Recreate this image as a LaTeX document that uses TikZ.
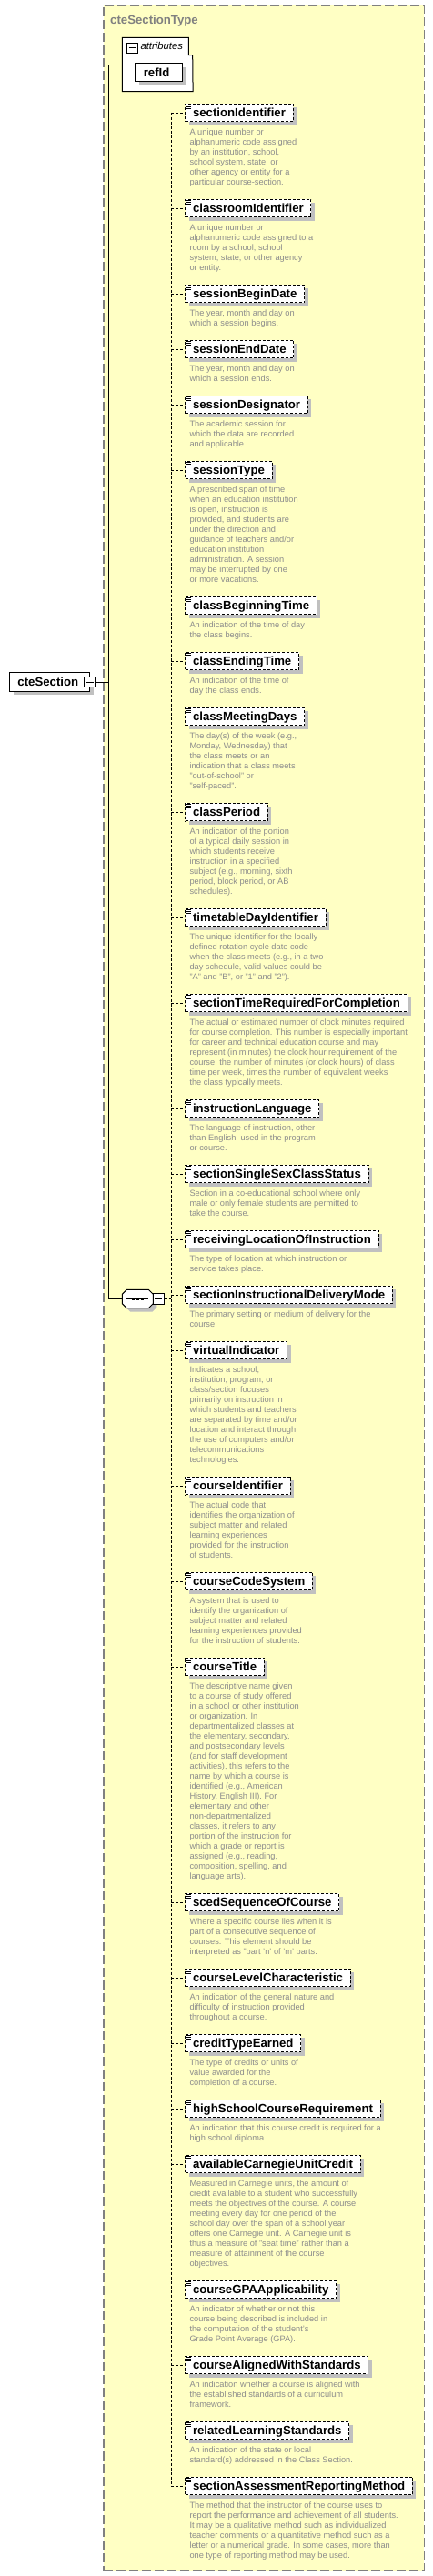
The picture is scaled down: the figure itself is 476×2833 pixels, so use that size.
\documentclass[tikz,border=0pt]{standalone}
\usepackage{fontspec}
\setmainfont{Liberation Sans}
\definecolor{bgyellow}{RGB}{255,255,196}
\definecolor{framegray}{RGB}{128,128,128}
\definecolor{descgray}{RGB}{140,140,140}
\definecolor{shadowgray}{RGB}{192,192,192}
\tikzset{
  namefont/.style={font=\fontsize{13.2}{15}\selectfont\bfseries},
  myshadow/.style={preaction={fill=shadowgray,draw=none,solid,transform canvas={shift={(4pt,-4pt)}}}},
  elbox/.style={namefont,draw=black,line width=1pt,dash pattern=on 3pt off 2pt,fill=white,
    inner xsep=8.2pt,inner ysep=0pt,minimum height=19.6pt,text height=9.5pt,text depth=0pt,
    anchor=north west,myshadow},
  solidbox/.style={namefont,draw=black,line width=1pt,fill=white,inner ysep=0pt,
    text height=9.5pt,text depth=0pt,align=left,anchor=north west,myshadow},
  desc/.style={font=\fontsize{9.25}{11}\selectfont,text=descgray,align=left,inner sep=0pt,anchor=north west},
  wire/.style={draw=black,line width=1pt},
  dwire/.style={draw=black,line width=1pt,dash pattern=on 3pt off 2pt},
  iconline/.style={draw=black,line width=0.8pt},
  minusbox/.style={draw=black,line width=1pt,fill=white,minimum width=11.4pt,minimum height=11pt,inner sep=0pt},
}
\newcommand\elem[3]{%
  \node[elbox] (#1) at (203.3,#2) {#1};
  \draw[iconline] ([xshift=1.4pt,yshift=-1.7pt]#1.north west) -- +(5.3pt,0pt);
  \draw[iconline] ([xshift=1.4pt,yshift=-3.7pt]#1.north west) -- +(5.3pt,0pt);
  \draw[iconline] ([xshift=1.4pt,yshift=-5.7pt]#1.north west) -- +(5.3pt,0pt);
  \draw[dwire] (#1.west -| spineTop) -- (#1.west);
  \node[desc] (#1-desc) at (208.3,#2+26.6) {\strut #3};
}
\newcommand\minusline[1]{\draw[line width=1pt] ([xshift=2.2pt]#1.west) -- ([xshift=-2.2pt]#1.east);}
\begin{document}
\begin{tikzpicture}[x=1pt,y=-1pt]
\useasboundingbox (0,0) rectangle (476,2833);
% type container
\node[draw=framegray,line width=1.2pt,dash pattern=on 10pt off 4pt,fill=bgyellow,
  anchor=north west,minimum width=352.4pt,minimum height=2820.7pt,inner sep=0pt] (typebox) at (113.3,5.3) {};
\node[anchor=base west,inner sep=0pt,font=\fontsize{13.2}{15}\selectfont\bfseries,text=framegray] (title) at (121,26) {cteSectionType};
% attributes
\node[anchor=north west,minimum width=77.4pt,minimum height=59pt,inner sep=0pt] (attrs) at (134.3,41.3) {};
\draw[line width=1pt,fill=white] (attrs.north west) -- (207.3,41.3) -- (207.3,60.7) -- (211.7,60.7) -- (attrs.south east) -- (attrs.south west) -- cycle;
\node[minusbox,anchor=north west] (attrMinus) at (139.3,46.7) {};
\minusline{attrMinus}
\node[anchor=base west,inner sep=0pt,font=\fontsize{11.3}{13}\selectfont\itshape] (attrLabel) at (154.3,54.7) {attributes};
\node[solidbox,inner xsep=9pt,text width=33.4pt,minimum height=20pt] (refId) at (148.3,69.3) {refId};
% root element
\node[solidbox,inner xsep=8.7pt,text width=70.3pt,minimum height=20.4pt] (cteSection) at (10.3,739.3) {cteSection};
\node[minusbox,anchor=north west] (cteMinus) at (92.3,744.3) {};
\minusline{cteMinus}
% trunk
\coordinate (trunkTop) at (119.3,71.3);
\coordinate (trunkBot) at (119.3,1428.5);
\draw[wire] (cteMinus.east) -- (cteMinus.east -| trunkTop);
\draw[wire] (trunkTop) -- (trunkBot);
\draw[wire] (trunkTop) -- (attrs.west |- trunkTop);
% sequence compositor
\node[minimum width=34pt,minimum height=20.4pt,inner sep=0pt] (seq) at (151.3,1428.5) {};
\fill[shadowgray,shift={(4,4)}] (139.3,1418.3) -- (163.3,1418.3) -- (168.3,1423.3) -- (168.3,1433.7) -- (163.3,1438.7) -- (139.3,1438.7) -- (134.3,1433.7) -- (134.3,1423.3) -- cycle;
\draw[line width=1pt,fill=white] (139.3,1418.3) -- (163.3,1418.3) -- (168.3,1423.3) -- (168.3,1433.7) -- (163.3,1438.7) -- (139.3,1438.7) -- (134.3,1433.7) -- (134.3,1423.3) -- cycle;
\draw[line width=1pt] (139.3,1428.5) -- (163.3,1428.5);
\foreach \dx in {146.7,151.7,156.7} {\fill (\dx-1.5,1427) rectangle (\dx+1.5,1430);}
\node[minusbox,minimum width=11.7pt,minimum height=11.6pt] (seqMinus) at (174.15,1428.5) {};
\minusline{seqMinus}
\draw[wire] (trunkBot) -- (seq.west);
% spine
\coordinate (spineTop) at (188.3,123.5);
\coordinate (spineBot) at (188.3,2733.5);
\draw[dwire] (spineTop) -- (spineBot);
\draw[dwire] (seqMinus.east) -- (seqMinus.east -| spineTop);
% elements
\elem{sectionIdentifier}{113.7}{A unique number or\\alphanumeric code assigned\\by an institution, school,\\school system, state, or\\other agency or entity for a\\particular course-section.}
\elem{classroomIdentifier}{218.7}{A unique number or\\alphanumeric code assigned to a\\room by a school, school\\system, state, or other agency\\or entity.}
\elem{sessionBeginDate}{312.7}{The year, month and day on\\which a session begins.}
\elem{sessionEndDate}{373.7}{The year, month and day on\\which a session ends.}
\elem{sessionDesignator}{434.7}{The academic session for\\which the data are recorded\\and applicable.}
\elem{sessionType}{506.7}{A prescribed span of time\\when an education institution\\is open, instruction is\\provided, and students are\\under the direction and\\guidance of teachers and/or\\education institution\\administration. A session\\may be interrupted by one\\or more vacations.}
\elem{classBeginningTime}{655.7}{An indication of the time of day\\the class begins.}
\elem{classEndingTime}{716.7}{An indication of the time of\\day the class ends.}
\elem{classMeetingDays}{777.7}{The day(s) of the week (e.g.,\\Monday, Wednesday) that\\the class meets or an\\indication that a class meets\\"out-of-school" or\\"self-paced".}
\elem{classPeriod}{882.7}{An indication of the portion\\of a typical daily session in\\which students receive\\instruction in a specified\\subject (e.g., morning, sixth\\period, block period, or AB\\schedules).}
\elem{timetableDayIdentifier}{998.7}{The unique identifier for the locally\\defined rotation cycle date code\\when the class meets (e.g., in a two\\day schedule, valid values could be\\"A" and "B", or "1" and "2").}
\elem{sectionTimeRequiredForCompletion}{1092.7}{The actual or estimated number of clock minutes required\\for course completion. This number is especially important\\for career and technical education course and may\\represent (in minutes) the clock hour requirement of the\\course, the number of minutes (or clock hours) of class\\time per week, times the number of equivalent weeks\\the class typically meets.}
\elem{instructionLanguage}{1208.7}{The language of instruction, other\\than English, used in the program\\or course.}
\elem{sectionSingleSexClassStatus}{1280.7}{Section in a co-educational school where only\\male or only female students are permitted to\\take the course.}
\elem{receivingLocationOfInstruction}{1352.7}{The type of location at which instruction or\\service takes place.}
\elem{sectionInstructionalDeliveryMode}{1413.7}{The primary setting or medium of delivery for the\\course.}
\elem{virtualIndicator}{1474.7}{Indicates a school,\\institution, program, or\\class/section focuses\\primarily on instruction in\\which students and teachers\\are separated by time and/or\\location and interact through\\the use of computers and/or\\telecommunications\\technologies.}
\elem{courseIdentifier}{1623.7}{The actual code that\\identifies the organization of\\subject matter and related\\learning experiences\\provided for the instruction\\of students.}
\elem{courseCodeSystem}{1728.7}{A system that is used to\\identify the organization of\\subject matter and related\\learning experiences provided\\for the instruction of students.}
\elem{courseTitle}{1822.7}{The descriptive name given\\to a course of study offered\\in a school or other institution\\or organization. In\\departmentalized classes at\\the elementary, secondary,\\and postsecondary levels\\(and for staff development\\activities), this refers to the\\name by which a course is\\identified (e.g., American\\History, English III). For\\elementary and other\\non-departmentalized\\classes, it refers to any\\portion of the instruction for\\which a grade or report is\\assigned (e.g., reading,\\composition, spelling, and\\language arts).}
\elem{scedSequenceOfCourse}{2081.7}{Where a specific course lies when it is\\part of a consecutive sequence of\\courses. This element should be\\interpreted as "part 'n' of 'm' parts.}
\elem{courseLevelCharacteristic}{2164.7}{An indication of the general nature and\\difficulty of instruction provided\\throughout a course.}
\elem{creditTypeEarned}{2236.7}{The type of credits or units of\\value awarded for the\\completion of a course.}
\elem{highSchoolCourseRequirement}{2308.7}{An indication that this course credit is required for a\\high school diploma.}
\elem{availableCarnegieUnitCredit}{2369.7}{Measured in Carnegie units, the amount of\\credit available to a student who successfully\\meets the objectives of the course. A course\\meeting every day for one period of the\\school day over the span of a school year\\offers one Carnegie unit. A Carnegie unit is\\thus a measure of "seat time" rather than a\\measure of attainment of the course\\objectives.}
\elem{courseGPAApplicability}{2507.7}{An indicator of whether or not this\\course being described is included in\\the computation of the student's\\Grade Point Average (GPA).}
\elem{courseAlignedWithStandards}{2590.7}{An indication whether a course is aligned with\\the established standards of a curriculum\\framework.}
\elem{relatedLearningStandards}{2662.7}{An indication of the state or local\\standard(s) addressed in the Class Section.}
\elem{sectionAssessmentReportingMethod}{2723.7}{The method that the instructor of the course uses to\\report the performance and achievement of all students.\\It may be a qualitative method such as individualized\\teacher comments or a quantitative method such as a\\letter or a numerical grade. In some cases, more than\\one type of reporting method may be used.}
\end{tikzpicture}
\end{document}
